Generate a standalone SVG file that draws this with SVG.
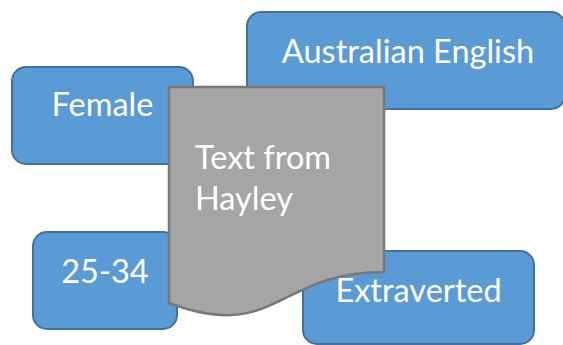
<svg xmlns="http://www.w3.org/2000/svg" width="563" height="345" viewBox="0 0 563 345">
  <style>
    .box { fill: #5B9BD5; stroke: #41719C; stroke-width: 2; }
    .doc { fill: #A5A5A5; stroke: #787878; stroke-width: 2.5; stroke-linejoin: miter; }
    .lbl { font-family: Lato, "Open Sans", "Liberation Sans", sans-serif; font-size: 32.5px; fill: #FFFFFF; }
    .mid { text-anchor: middle; }
  </style>
  <rect width="563" height="345" fill="#FFFFFF"/>
  <g id="node-female">
    <rect class="box" x="12" y="67" width="181" height="97" rx="14"/>
    <text class="lbl mid" x="102.5" y="116">Female</text>
  </g>
  <g id="node-australian-english">
    <rect class="box" x="247" y="12" width="318" height="97" rx="14"/>
    <text class="lbl mid" x="408" y="63">Australian English</text>
  </g>
  <g id="node-age">
    <rect class="box" x="33" y="232" width="144" height="97" rx="14"/>
    <text class="lbl mid" x="105" y="283">25-34</text>
  </g>
  <g id="node-extraverted">
    <rect class="box" x="303" y="251" width="231" height="93" rx="14"/>
    <text class="lbl mid" x="418.5" y="302">Extraverted</text>
  </g>
  <g id="node-text-from-hayley">
    <path class="doc" d="M169,87 H384 V272 C276.5,272 276.5,343 169,303 Z"/>
    <text class="lbl" x="195" y="169">Text from</text>
    <text class="lbl" x="195" y="210">Hayley</text>
  </g>
  <g id="connectors"/>
</svg>
